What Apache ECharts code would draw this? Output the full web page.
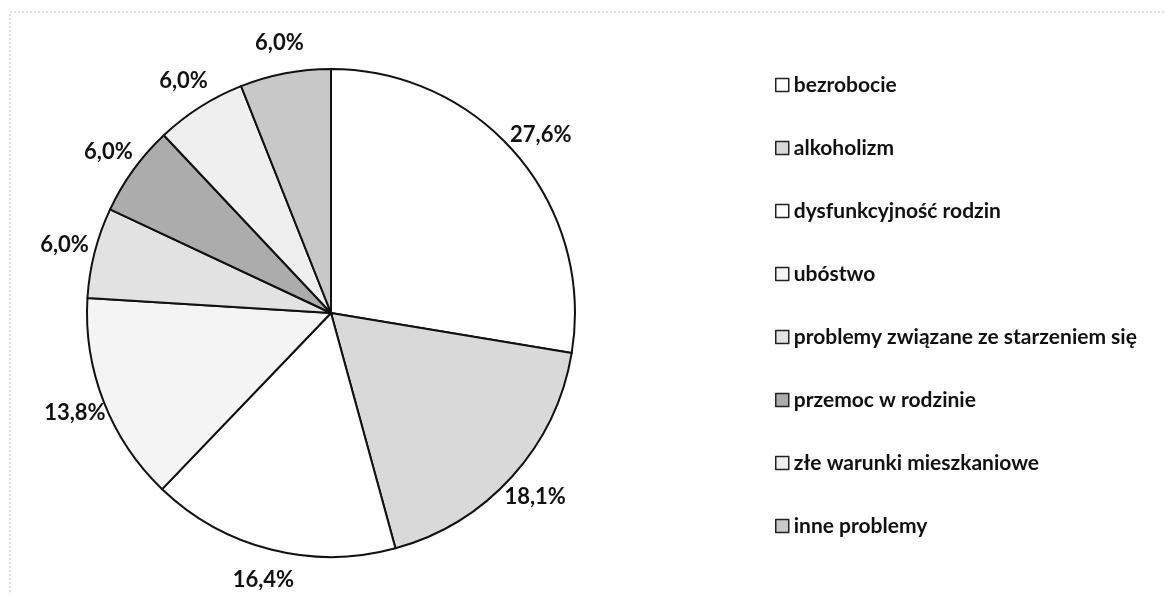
<!DOCTYPE html>
<html><head><meta charset="utf-8">
<script src="https://cdn.jsdelivr.net/npm/echarts@6/dist/echarts.min.js"></script>
<style>html,body{margin:0;padding:0;background:#fff}#c{width:1164px;height:595px}</style>
</head><body><div id="c"></div>
<script>
const categories = ['bezrobocie','alkoholizm','dysfunkcyjność rodzin','ubóstwo','problemy związane ze starzeniem się','przemoc w rodzinie','złe warunki mieszkaniowe','inne problemy'];
const values = [27.6, 18.1, 16.4, 13.8, 6.0, 6.0, 6.0, 6.0];
const colors = ['#ffffff','#d9d9d9','#ffffff','#f4f4f4','#e2e2e2','#acacac','#efefef','#c8c8c8'];
const fmt = v => v.toFixed(1).replace('.', ',') + '%';
const chart = echarts.init(document.getElementById('c'), null, {renderer:'canvas'});
chart.setOption({
  animation:false,
  backgroundColor:'#fff',
  graphic:[{type:'rect',shape:{x:10,y:12,width:1170,height:600},style:{fill:'none',stroke:'#bbb',lineWidth:1,lineDash:[2,2]}}],
  legend:{
    orient:'vertical', left:775, top:73, padding:0, itemGap:39, itemWidth:13, itemHeight:13,
    icon:'rect',
    data:categories.map((c,i)=>({name:c,itemStyle:{color:colors[i],borderColor:'#222',borderWidth:1.5}})),
    textStyle:{fontFamily:'Lato',fontWeight:'bold',fontSize:21,color:'#111',lineHeight:24}
  },
  series:[{
    type:'pie', center:[331,313], radius:[0,244], startAngle:90, clockwise:true,
    data: categories.map((c,i)=>({name:c,value:values[i],itemStyle:{color:colors[i]}})),
    itemStyle:{borderColor:'#111',borderWidth:2},
    label:{show:false},
    labelLine:{show:false},
    emphasis:{disabled:true}, silent:true
  },{
    type:'pie', center:[331,313], radius:[252,292], startAngle:90, clockwise:true,
    data: categories.map((c,i)=>({name:c,value:values[i]})),
    itemStyle:{color:'rgba(0,0,0,0)',borderWidth:0},
    label:{show:true,position:'inside',rotate:0,formatter:p=>fmt(p.value),
      fontFamily:'Lato',fontSize:22,color:'#111',fontWeight:'bold'},
    labelLine:{show:false},
    emphasis:{disabled:true}, silent:true
  }]
});
</script></body></html>
